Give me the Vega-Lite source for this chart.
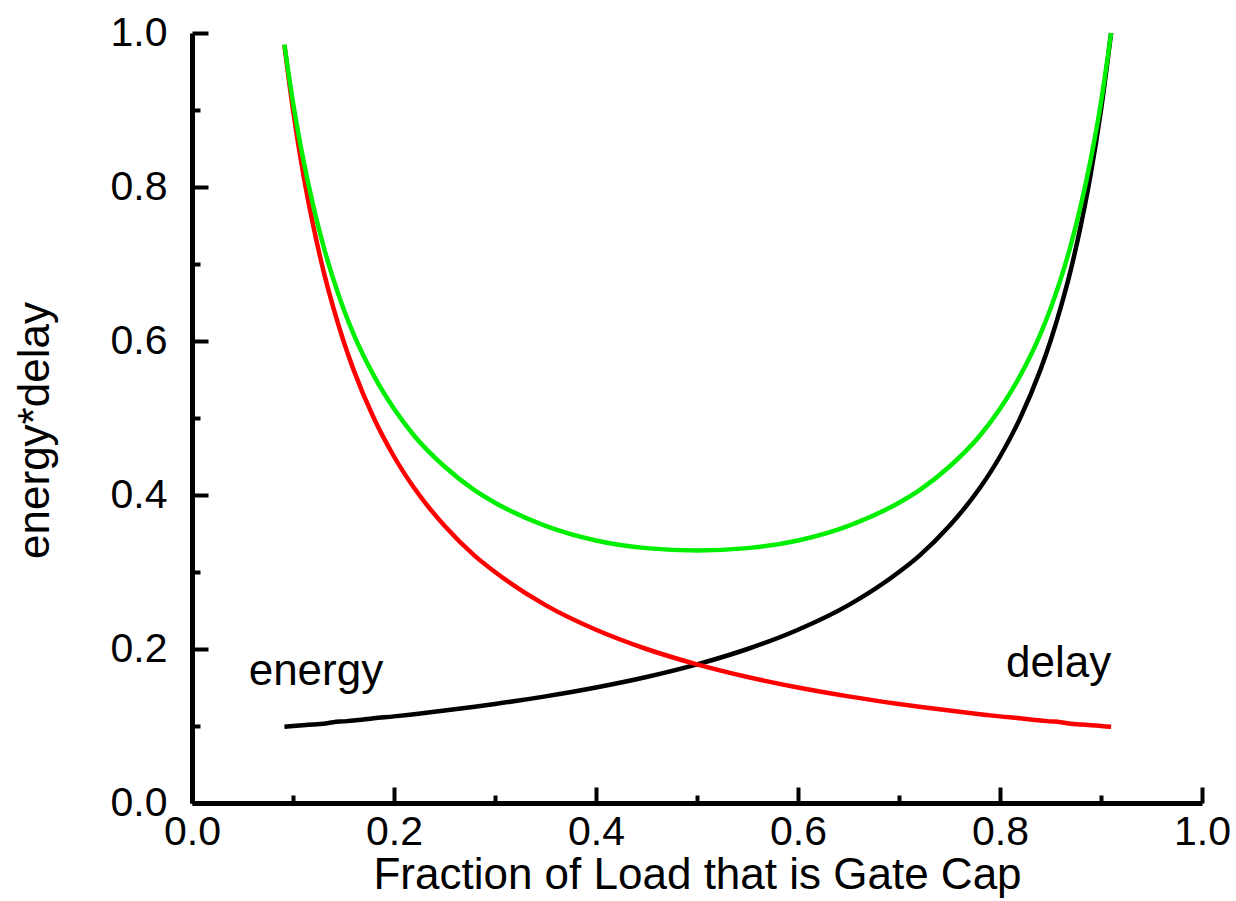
{
  "$schema": "https://vega.github.io/schema/vega-lite/v6.json",
  "width": 1010,
  "height": 770,
  "autosize": "none",
  "padding": {"left": 192, "top": 33, "right": 34, "bottom": 98},
  "background": "white",
  "config": {"view": {"stroke": null}, "font": "Liberation Sans"},
  "datasets": {
    "curves": [
      {"x": 0.0915, "energy": 0.099, "delay": 0.984, "product": 0.985},
      {"x": 0.10, "energy": 0.100, "delay": 0.900, "product": 0.910},
      {"x": 0.11, "energy": 0.101, "delay": 0.818, "product": 0.837},
      {"x": 0.12, "energy": 0.102, "delay": 0.750, "product": 0.776},
      {"x": 0.13, "energy": 0.103, "delay": 0.692, "product": 0.724},
      {"x": 0.14, "energy": 0.105, "delay": 0.643, "product": 0.680},
      {"x": 0.15, "energy": 0.106, "delay": 0.600, "product": 0.642},
      {"x": 0.16, "energy": 0.107, "delay": 0.5625, "product": 0.609},
      {"x": 0.18, "energy": 0.110, "delay": 0.500, "product": 0.555},
      {"x": 0.20, "energy": 0.1125, "delay": 0.450, "product": 0.512},
      {"x": 0.22, "energy": 0.1154, "delay": 0.409, "product": 0.477},
      {"x": 0.25, "energy": 0.120, "delay": 0.360, "product": 0.437},
      {"x": 0.28, "energy": 0.125, "delay": 0.321, "product": 0.406},
      {"x": 0.30, "energy": 0.1286, "delay": 0.300, "product": 0.390},
      {"x": 0.35, "energy": 0.1385, "delay": 0.257, "product": 0.360},
      {"x": 0.40, "energy": 0.150, "delay": 0.225, "product": 0.341},
      {"x": 0.45, "energy": 0.1636, "delay": 0.200, "product": 0.331},
      {"x": 0.50, "energy": 0.180, "delay": 0.180, "product": 0.328},
      {"x": 0.55, "energy": 0.200, "delay": 0.1636, "product": 0.331},
      {"x": 0.60, "energy": 0.225, "delay": 0.150, "product": 0.341},
      {"x": 0.65, "energy": 0.257, "delay": 0.1385, "product": 0.360},
      {"x": 0.70, "energy": 0.300, "delay": 0.1286, "product": 0.390},
      {"x": 0.72, "energy": 0.321, "delay": 0.125, "product": 0.406},
      {"x": 0.75, "energy": 0.360, "delay": 0.120, "product": 0.437},
      {"x": 0.78, "energy": 0.409, "delay": 0.1154, "product": 0.477},
      {"x": 0.80, "energy": 0.450, "delay": 0.1125, "product": 0.512},
      {"x": 0.82, "energy": 0.500, "delay": 0.110, "product": 0.555},
      {"x": 0.84, "energy": 0.5625, "delay": 0.107, "product": 0.609},
      {"x": 0.85, "energy": 0.600, "delay": 0.106, "product": 0.642},
      {"x": 0.86, "energy": 0.643, "delay": 0.105, "product": 0.680},
      {"x": 0.87, "energy": 0.692, "delay": 0.103, "product": 0.724},
      {"x": 0.88, "energy": 0.750, "delay": 0.102, "product": 0.776},
      {"x": 0.89, "energy": 0.818, "delay": 0.101, "product": 0.837},
      {"x": 0.90, "energy": 0.900, "delay": 0.100, "product": 0.910},
      {"x": 0.91, "energy": 1.000, "delay": 0.099, "product": 1.000}
    ],
    "labels": [
      {"x": 0.1227, "y": 0.153, "label": "energy"},
      {"x": 0.858, "y": 0.164, "label": "delay"}
    ]
  },
  "encoding": {
    "x": {
      "field": "x",
      "type": "quantitative",
      "scale": {"domain": [0, 1], "nice": false, "zero": false},
      "axis": {
        "title": "Fraction of Load that is Gate Cap",
        "values": [0, 0.1, 0.2, 0.3, 0.4, 0.5, 0.6, 0.7, 0.8, 0.9, 1.0],
        "labelExpr": "round(datum.value*10)%2==0 ? format(datum.value,'.1f') : ''",
        "labelFont": "Liberation Sans",
        "labelFontSize": 41,
        "labelColor": "black",
        "labelPadding": 25,
        "labelFlush": false,
        "labelOverlap": false,
        "tickSize": {"condition": {"test": "round(datum.value*10)%2==0", "value": -16}, "value": -8},
        "tickWidth": 4,
        "tickColor": "black",
        "domainWidth": 5,
        "domainColor": "black",
        "grid": false,
        "titleFont": "Liberation Sans",
        "titleFontSize": 44,
        "titleFontWeight": "normal",
        "titleColor": "black",
        "titlePadding": -7
      }
    },
    "y": {
      "type": "quantitative",
      "scale": {"domain": [0, 1], "nice": false, "zero": false},
      "axis": {
        "title": "energy*delay",
        "values": [0, 0.1, 0.2, 0.3, 0.4, 0.5, 0.6, 0.7, 0.8, 0.9, 1.0],
        "labelExpr": "round(datum.value*10)%2==0 ? format(datum.value,'.1f') : ''",
        "labelFont": "Liberation Sans",
        "labelFontSize": 41,
        "labelColor": "black",
        "labelPadding": 41,
        "labelFlush": false,
        "labelOverlap": false,
        "tickSize": {"condition": {"test": "round(datum.value*10)%2==0", "value": -16}, "value": -8},
        "tickWidth": 4,
        "tickColor": "black",
        "domainWidth": 5,
        "domainColor": "black",
        "grid": false,
        "titleFont": "Liberation Sans",
        "titleFontSize": 44,
        "titleFontWeight": "normal",
        "titleColor": "black",
        "titlePadding": 53,
        "titleY": 397
      }
    }
  },
  "layer": [
    {
      "data": {"name": "curves"},
      "mark": {"type": "line", "strokeWidth": 4.5, "interpolate": "monotone", "color": "black"},
      "encoding": {"y": {"field": "energy", "type": "quantitative"}}
    },
    {
      "data": {"name": "curves"},
      "mark": {"type": "line", "strokeWidth": 4.5, "interpolate": "monotone", "color": "#ff0000"},
      "encoding": {"y": {"field": "delay", "type": "quantitative"}}
    },
    {
      "data": {"name": "curves"},
      "mark": {"type": "line", "strokeWidth": 4.5, "interpolate": "monotone", "color": "#00ee00"},
      "encoding": {"y": {"field": "product", "type": "quantitative"}}
    },
    {
      "data": {"name": "labels"},
      "mark": {"type": "text", "font": "Liberation Sans", "fontSize": 44, "align": "center", "baseline": "alphabetic", "color": "black"},
      "encoding": {
        "y": {"field": "y", "type": "quantitative"},
        "text": {"field": "label"}
      }
    }
  ]
}
